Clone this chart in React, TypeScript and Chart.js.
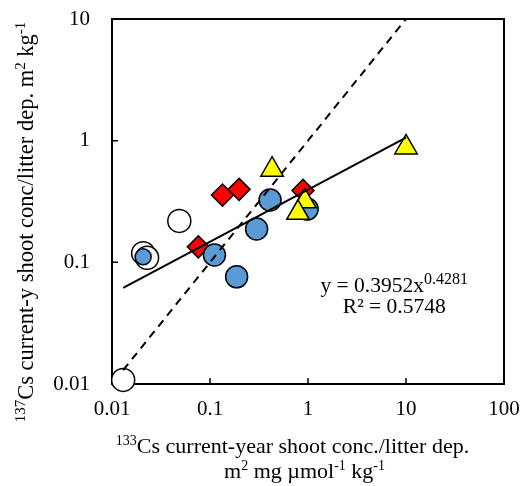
import React, { useEffect, useRef } from "react";
import { Chart, registerables } from "chart.js";

Chart.register(...registerables);

// ---- data ----
const xTickValues = [0.01, 0.1, 1, 10, 100];
const yTickValues = [0.01, 0.1, 1, 10];

const openX = [0.0486, 0.0208, 0.0228, 0.013];
const openY = [0.219, 0.119, 0.109, 0.0108];

const blueX = [0.0208, 0.111, 0.187, 0.299, 0.41, 0.98];
const blueY = [0.111, 0.115, 0.076, 0.188, 0.325, 0.274];

const redX = [0.076, 0.134, 0.198, 0.89];
const redY = [0.134, 0.357, 0.398, 0.39];

const yellowX = [0.43, 0.93, 0.79, 10];
const yellowY = [0.577, 0.317, 0.255, 0.88];

const fitX = [0.013, 10];
const fitY = [0.0616, 1.059];

const identityX = [0.013, 10];
const identityY = [0.013, 10];

const equationText = "y = 0.3952x";
const equationExp = "0.4281";
const r2Text = "R² = 0.5748";

const pts = (xs: number[], ys: number[]) => xs.map((x, i) => ({ x, y: ys[i] }));

type Seg = { t: string; sup?: boolean };
const FONT = '"Liberation Serif", "Times New Roman", serif';

function drawRich(
  ctx: CanvasRenderingContext2D,
  segs: Seg[],
  cx: number,
  base: number,
  size: number,
  supRatio = 0.65,
  rotate = false
) {
  const supSize = Math.round(size * supRatio);
  const fm = `${size}px ${FONT}`;
  const fs = `${supSize}px ${FONT}`;
  let total = 0;
  const widths = segs.map((s) => {
    ctx.font = s.sup ? fs : fm;
    const w = ctx.measureText(s.t).width;
    total += w;
    return w;
  });
  ctx.save();
  if (rotate) {
    ctx.translate(base, cx);
    ctx.rotate(-Math.PI / 2);
  } else {
    ctx.translate(cx, base);
  }
  ctx.textAlign = "left";
  ctx.textBaseline = "alphabetic";
  ctx.fillStyle = "#000";
  let x = -total / 2;
  segs.forEach((s, i) => {
    ctx.font = s.sup ? fs : fm;
    ctx.fillText(s.t, x, s.sup ? -size * 0.36 : 0);
    x += widths[i];
  });
  ctx.restore();
}

const framePlugin = {
  id: "frame",
  beforeDatasetsDraw(chart: any) {
    const { ctx, chartArea: a, scales } = chart;
    ctx.save();
    ctx.strokeStyle = "#000";
    ctx.lineWidth = 2;
    ctx.strokeRect(a.left, a.top, a.right - a.left, a.bottom - a.top);
    ctx.lineWidth = 1.5;
    ctx.beginPath();
    xTickValues.forEach((v) => {
      const p = scales.x.getPixelForValue(v);
      ctx.moveTo(p, a.bottom);
      ctx.lineTo(p, a.bottom - 6);
    });
    yTickValues.forEach((v) => {
      const p = scales.y.getPixelForValue(v);
      ctx.moveTo(a.left, p);
      ctx.lineTo(a.left + 6, p);
    });
    ctx.stroke();
    ctx.restore();
  },
  afterDraw(chart: any) {
    const { ctx, chartArea: a } = chart;
    // y-axis title
    drawRich(
      ctx,
      [
        { t: "137", sup: true },
        { t: "Cs current-y shoot conc/litter dep. m" },
        { t: "2", sup: true },
        { t: " kg" },
        { t: "-1", sup: true },
      ],
      222,
      33,
      22.5,
      0.65,
      true
    );
    // x-axis title
    drawRich(ctx, [{ t: "133", sup: true }, { t: "Cs current-year shoot conc./litter dep." }], 292.5, 453, 22);
    drawRich(
      ctx,
      [
        { t: "m" },
        { t: "2", sup: true },
        { t: " mg µmol" },
        { t: "-1", sup: true },
        { t: " kg" },
        { t: "-1", sup: true },
      ],
      304.5,
      478,
      22
    );
    // equation
    const ex = a.left + (a.right - a.left) * 0.72;
    drawRich(ctx, [{ t: equationText }, { t: equationExp, sup: true }], ex, a.top + 273, 21.5, 0.75);
    drawRich(ctx, [{ t: r2Text }], ex, a.top + 294, 21.5);
  },
};

export default function App() {
  const ref = useRef<HTMLCanvasElement>(null);
  useEffect(() => {
    if (!ref.current) return;
    const common = { borderColor: "#000", borderWidth: 1.5, showLine: false, clip: false as any };
    const chart = new Chart(ref.current, {
      type: "scatter",
      data: {
        datasets: [
          {
            type: "line",
            label: "fit",
            data: pts(fitX, fitY),
            borderColor: "#000",
            borderWidth: 2,
            pointRadius: 0,
            showLine: true,
            fill: false,
            order: 0,
            clip: false as any,
          } as any,
          {
            type: "line",
            label: "1:1",
            data: pts(identityX, identityY),
            borderColor: "#000",
            borderWidth: 2,
            borderDash: [8, 6],
            pointRadius: 0,
            showLine: true,
            fill: false,
            order: 0,
            clip: false as any,
          } as any,
          {
            label: "yellow",
            data: pts(yellowX, yellowY),
            pointStyle: "triangle",
            pointRadius: 13,
            backgroundColor: "#FFFF00",
            order: 1,
            ...common,
          } as any,
          {
            label: "blue",
            data: pts(blueX, blueY),
            pointStyle: "circle",
            pointRadius: (c: any) => (c.dataIndex === 0 ? 8 : 11),
            backgroundColor: "#5B9BD5",
            order: 2,
            ...common,
          } as any,
          {
            label: "red",
            data: pts(redX, redY),
            pointStyle: "rectRot",
            pointRadius: 11,
            backgroundColor: "#FF0000",
            order: 3,
            ...common,
          } as any,
          {
            label: "open",
            data: pts(openX, openY),
            pointStyle: "circle",
            pointRadius: 11.5,
            backgroundColor: "#FFFFFF",
            order: 4,
            ...common,
          } as any,
        ],
      },
      options: {
        responsive: false,
        animation: false,
        events: [],
        layout: { padding: { top: 19, right: 25, left: 0, bottom: 0 } },
        plugins: { legend: { display: false }, tooltip: { enabled: false } },
        scales: {
          x: {
            type: "logarithmic",
            min: 0.01,
            max: 100,
            afterBuildTicks: (s: any) => {
              s.ticks = xTickValues.map((v) => ({ value: v }));
            },
            afterFit: (s: any) => {
              s.height = 102;
              s.paddingLeft = 0;
              s.paddingRight = 0;
            },
            ticks: {
              callback: (v: any) => String(v),
              font: { family: FONT, size: 21 },
              color: "#000",
              padding: 13,
              maxRotation: 0,
              autoSkip: false,
            },
            grid: { display: false, drawTicks: false },
            border: { display: false },
          },
          y: {
            type: "logarithmic",
            min: 0.01,
            max: 10,
            afterBuildTicks: (s: any) => {
              s.ticks = yTickValues.map((v) => ({ value: v }));
            },
            afterFit: (s: any) => {
              s.width = 112;
              s.paddingTop = 0;
              s.paddingBottom = 0;
            },
            ticks: {
              callback: (v: any) => String(v),
              font: { family: FONT, size: 21 },
              color: "#000",
              padding: 22,
              autoSkip: false,
            },
            grid: { display: false, drawTicks: false },
            border: { display: false },
          },
        },
      } as any,
      plugins: [framePlugin],
    });
    return () => chart.destroy();
  }, []);
  return (
    <div style={{ position: "absolute", left: 0, top: 0, width: 529, height: 486, background: "#fff" }}>
      <canvas ref={ref} width={529} height={486} style={{ display: "block" }} />
    </div>
  );
}
